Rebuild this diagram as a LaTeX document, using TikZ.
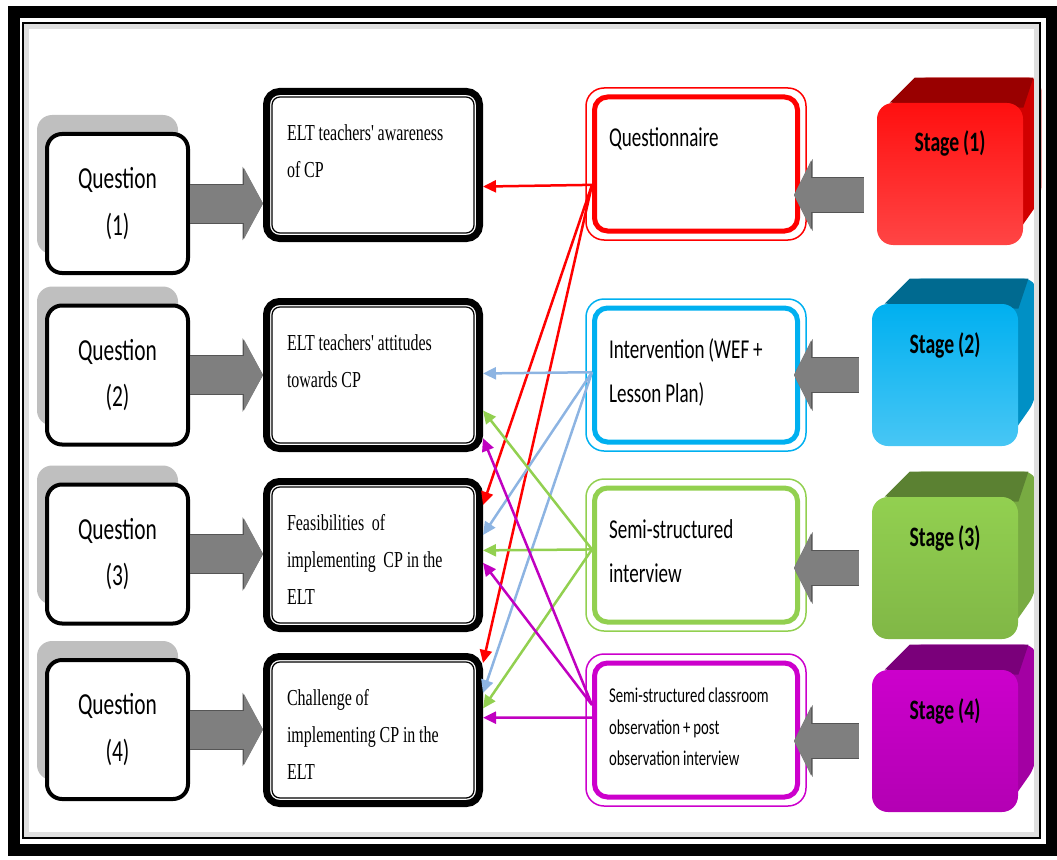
\documentclass[tikz,border=0pt]{standalone}
\usepackage{fontspec}
\newfontfamily\calfont[FakeStretch=0.7,WordSpace=0.9]{Carlito}
\newfontfamily\serfont[FakeStretch=0.7,WordSpace=0.95]{Liberation Serif}
\usetikzlibrary{arrows.meta,calc,shadows,backgrounds}

\definecolor{arrowgray}{HTML}{7F7F7F}
\definecolor{arrowedge}{HTML}{555555}
\definecolor{shadowgray}{HTML}{BFBFBF}
\definecolor{mred}{HTML}{FF0000}
\definecolor{mblue}{HTML}{00B0F0}
\definecolor{mgreen}{HTML}{92D050}
\definecolor{mpurple}{HTML}{CC00CC}
\definecolor{lred}{HTML}{FF0000}
\definecolor{lblue}{HTML}{8DB4E2}
\definecolor{lgreen}{HTML}{92D050}
\definecolor{lpurple}{HTML}{C000C0}

\tikzset{
  question/.style={draw, line width=0.08cm, rounded corners=0.3cm, fill=white,
    minimum width=2.82cm, minimum height=2.78cm, align=center,
    font=\calfont\fontsize{17.4}{26.6}\selectfont,
    general shadow={fill=shadowgray, shadow xshift=-0.2cm, shadow yshift=0.38cm}},
  topic/.style={draw, line width=0.14cm, rounded corners=0.26cm, fill=white,
    minimum width=4.26cm, minimum height=2.94cm, text width=3.44cm,
    inner xsep=0.41cm, inner ysep=0pt, text height=0.98cm, text depth=1.96cm,
    align=flush left, font=\serfont\fontsize{13}{21}\selectfont},
  method/.style={draw=#1, line width=0.1cm, rounded corners=0.26cm, fill=white,
    minimum width=4.06cm, minimum height=2.68cm, text width=3.48cm,
    inner xsep=0.29cm, inner ysep=0pt, text height=1.0cm, text depth=1.68cm,
    align=flush left, font=\calfont\fontsize{15.5}{25.5}\selectfont},
  stage/.style={rounded corners=0.32cm, minimum width=2.92cm, minimum height=2.84cm,
    inner ysep=0pt, text height=0.98cm, text depth=1.86cm,
    font=\calfont\bfseries\fontsize{16}{19}\selectfont},
  qarrow/.style={draw=arrowgray, line width=0.76cm, -{Triangle[length=0.38cm,width=1.4cm]},
    preaction={draw=arrowedge, line width=0.8cm, -{Triangle[length=0.41cm,width=1.46cm]}}},
  sarrow/.style={draw=arrowgray, line width=0.68cm, shorten <=0.26cm, shorten >=-0.12cm,
    -{Triangle[length=0.34cm,width=1.36cm]},
    preaction={draw=arrowedge, line width=0.72cm, shorten <=0.26cm, shorten >=-0.12cm,
      -{Triangle[length=0.37cm,width=1.42cm]}}},
  link/.style={draw=#1, line width=0.05cm, -{Triangle[length=0.26cm,width=0.24cm]}}
}

\begin{document}
\begin{tikzpicture}
\useasboundingbox (0,0) rectangle (21.14,-17.18);

% frame
\draw[line width=0.24cm] (0.28,-0.25) rectangle (21.03,-17.0);
\draw[line width=0.03cm] (0.46,-0.46) rectangle (20.8,-16.76);
\draw[gray!25, line width=0.1cm] (0.53,-0.53) rectangle (20.73,-16.69);

% research questions
\node[question] (q1) at (2.35,-4.07) {Question\\(1)};
\node[question] (q2) at (2.35,-7.5) {Question\\(2)};
\node[question] (q3) at (2.35,-11.08) {Question\\(3)};
\node[question] (q4) at (2.35,-14.59) {Question\\(4)};

% topics
\node[topic] (t1) at (7.46,-3.3) {ELT teachers' awareness\\of CP};
\node[topic] (t2) at (7.46,-7.5) {ELT teachers' attitudes\\towards CP};
\node[topic] (t3) at (7.46,-11.1) {Feasibilities~ of\\implementing~ CP in the\\ELT};
\node[topic] (t4) at (7.46,-14.6) {Challenge of\\implementing CP in the\\ELT};

% instruments
\node[method=mred] (m1) at (13.92,-3.28) {Questionnaire};
\node[method=mblue] (m2) at (13.92,-7.5) {Intervention (WEF +\\Lesson Plan)};
\node[method=mgreen] (m3) at (13.92,-11.1) {Semi-structured\\interview};
\node[method=mpurple, text height=0.79cm, text depth=1.89cm,
  font=\calfont\fontsize{12}{18}\selectfont] (m4) at (13.92,-14.6)
  {Semi-structured classroom\\observation + post\\observation interview};

% stages
\node[stage, top color=red!94!white, bottom color=red!73!white] (s1) at (19.0,-3.48) {Stage (1)};
\node[stage, top color=mblue, bottom color=mblue!72!white] (s2) at (18.9,-7.5) {Stage (2)};
\node[stage, top color=mgreen, bottom color=mgreen!88!black] (s3) at (18.9,-11.36) {Stage (3)};
\node[stage, top color=mpurple, bottom color=mpurple!88!black] (s4) at (18.9,-14.82) {Stage (4)};

\begin{pgfonlayer}{background}
\foreach \s/\tc/\sc in {s1/red!60!black/red!82!black, s2/mblue!60!black/mblue!82!black,
                        s3/mgreen!62!black/mgreen!82!black, s4/mpurple!60!black/mpurple!80!black} {
  \fill[\sc, rounded corners=0.25cm] ([xshift=0.3cm]\s.north west) -- ([shift={(0.76,0.5)}]\s.north west)
    -- ([shift={(0.36,0.5)}]\s.north east) -- ([shift={(0.36,0.94)}]\s.south east)
    -- ([xshift=-0.3cm]\s.south east) -- cycle;
  \fill[\tc] ([xshift=0.26cm]\s.north west) -- ([shift={(0.76,0.5)}]\s.north west)
    -- ([shift={(0.2,0.5)}]\s.north east) -- ([yshift=-0.1cm]\s.north east) -- cycle;
}
\end{pgfonlayer}

% inner and outer rims
\foreach \n in {t1,t2,t3,t4}
  \draw[line width=0.025cm, rounded corners=0.16cm] ([shift={(0.18,-0.18)}]\n.north west) rectangle ([shift={(-0.18,0.18)}]\n.south east);
\foreach \n/\c in {m1/mred,m2/mblue,m3/mgreen,m4/mpurple}
  \draw[\c, line width=0.03cm, rounded corners=0.36cm] ([shift={(-0.12,0.13)}]\n.north west) rectangle ([shift={(0.12,-0.13)}]\n.south east);

% block arrows
\foreach \i in {1,...,4}
  \draw[qarrow] (q\i.east) -- (q\i.east -| t\i.west);
\draw[sarrow] ([yshift=-0.42cm]s1.west) -- ([yshift=-0.42cm]s1.west -| m1.east);
\foreach \i in {2,3,4}
  \draw[sarrow] (s\i.west) -- (s\i.west -| m\i.east);

% links from instruments to topics
\foreach \m/\a/\t/\b/\c in {m1/0.65/t1/0.64/lred, m1/0.65/t3/0.175/lred, m1/0.65/t4/0.065/lred,
    m2/0.48/t2/0.49/lblue, m2/0.48/t3/0.37/lblue, m2/0.48/t4/0.26/lblue,
    m3/0.46/t2/0.73/lgreen, m3/0.46/t3/0.47/lgreen, m3/0.46/t4/0.36/lgreen,
    m4/0.32/t2/0.91/lpurple, m4/0.32/t3/0.55/lpurple, m4/0.41/t4/0.42/lpurple}
  \draw[link=\c] ($(\m.north west)!\a!(\m.south west)$) -- ($(\t.north east)!\b!(\t.south east)$);
\end{tikzpicture}
\end{document}
